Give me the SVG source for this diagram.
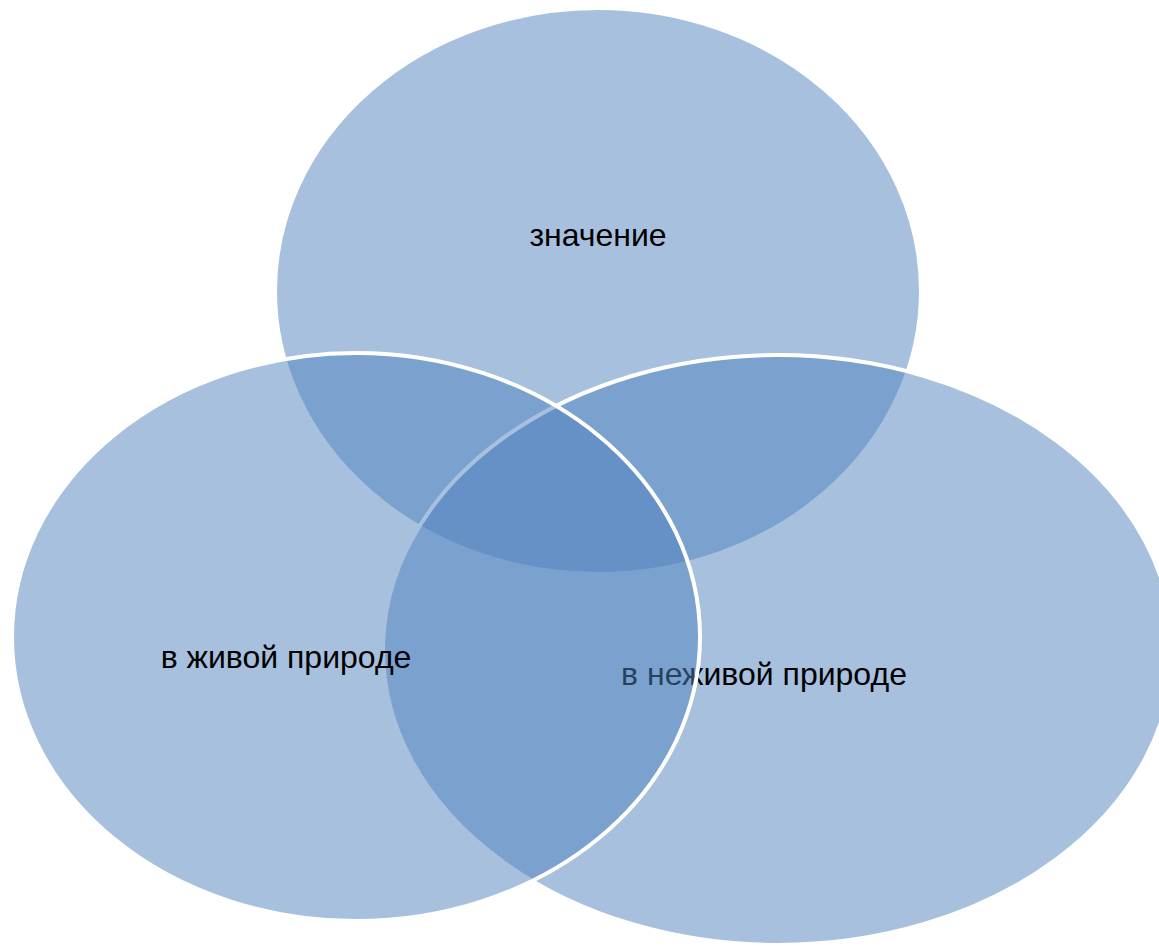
<svg xmlns="http://www.w3.org/2000/svg" width="1159" height="946" viewBox="0 0 1159 946">
<style>
.c{fill:#4F81BD;fill-opacity:0.5;stroke:#FFFFFF;stroke-width:4}
.t{font-family:"Liberation Sans",Arial,sans-serif;font-size:32px;fill:#000000;text-anchor:middle}
</style>
<rect width="1159" height="946" fill="#FFFFFF"/>
<g id="top">
<ellipse class="c" cx="598" cy="291" rx="323" ry="283"/>
<text class="t" x="598" y="246">значение</text>
</g>
<g id="right">
<ellipse class="c" cx="778" cy="650" rx="395" ry="295"/>
<text class="t" x="764" y="685">в неживой природе</text>
</g>
<g id="left">
<ellipse class="c" cx="356" cy="637" rx="344" ry="284"/>
<text class="t" x="286" y="668">в живой природе</text>
</g>
<g id="connectors"/>
</svg>
